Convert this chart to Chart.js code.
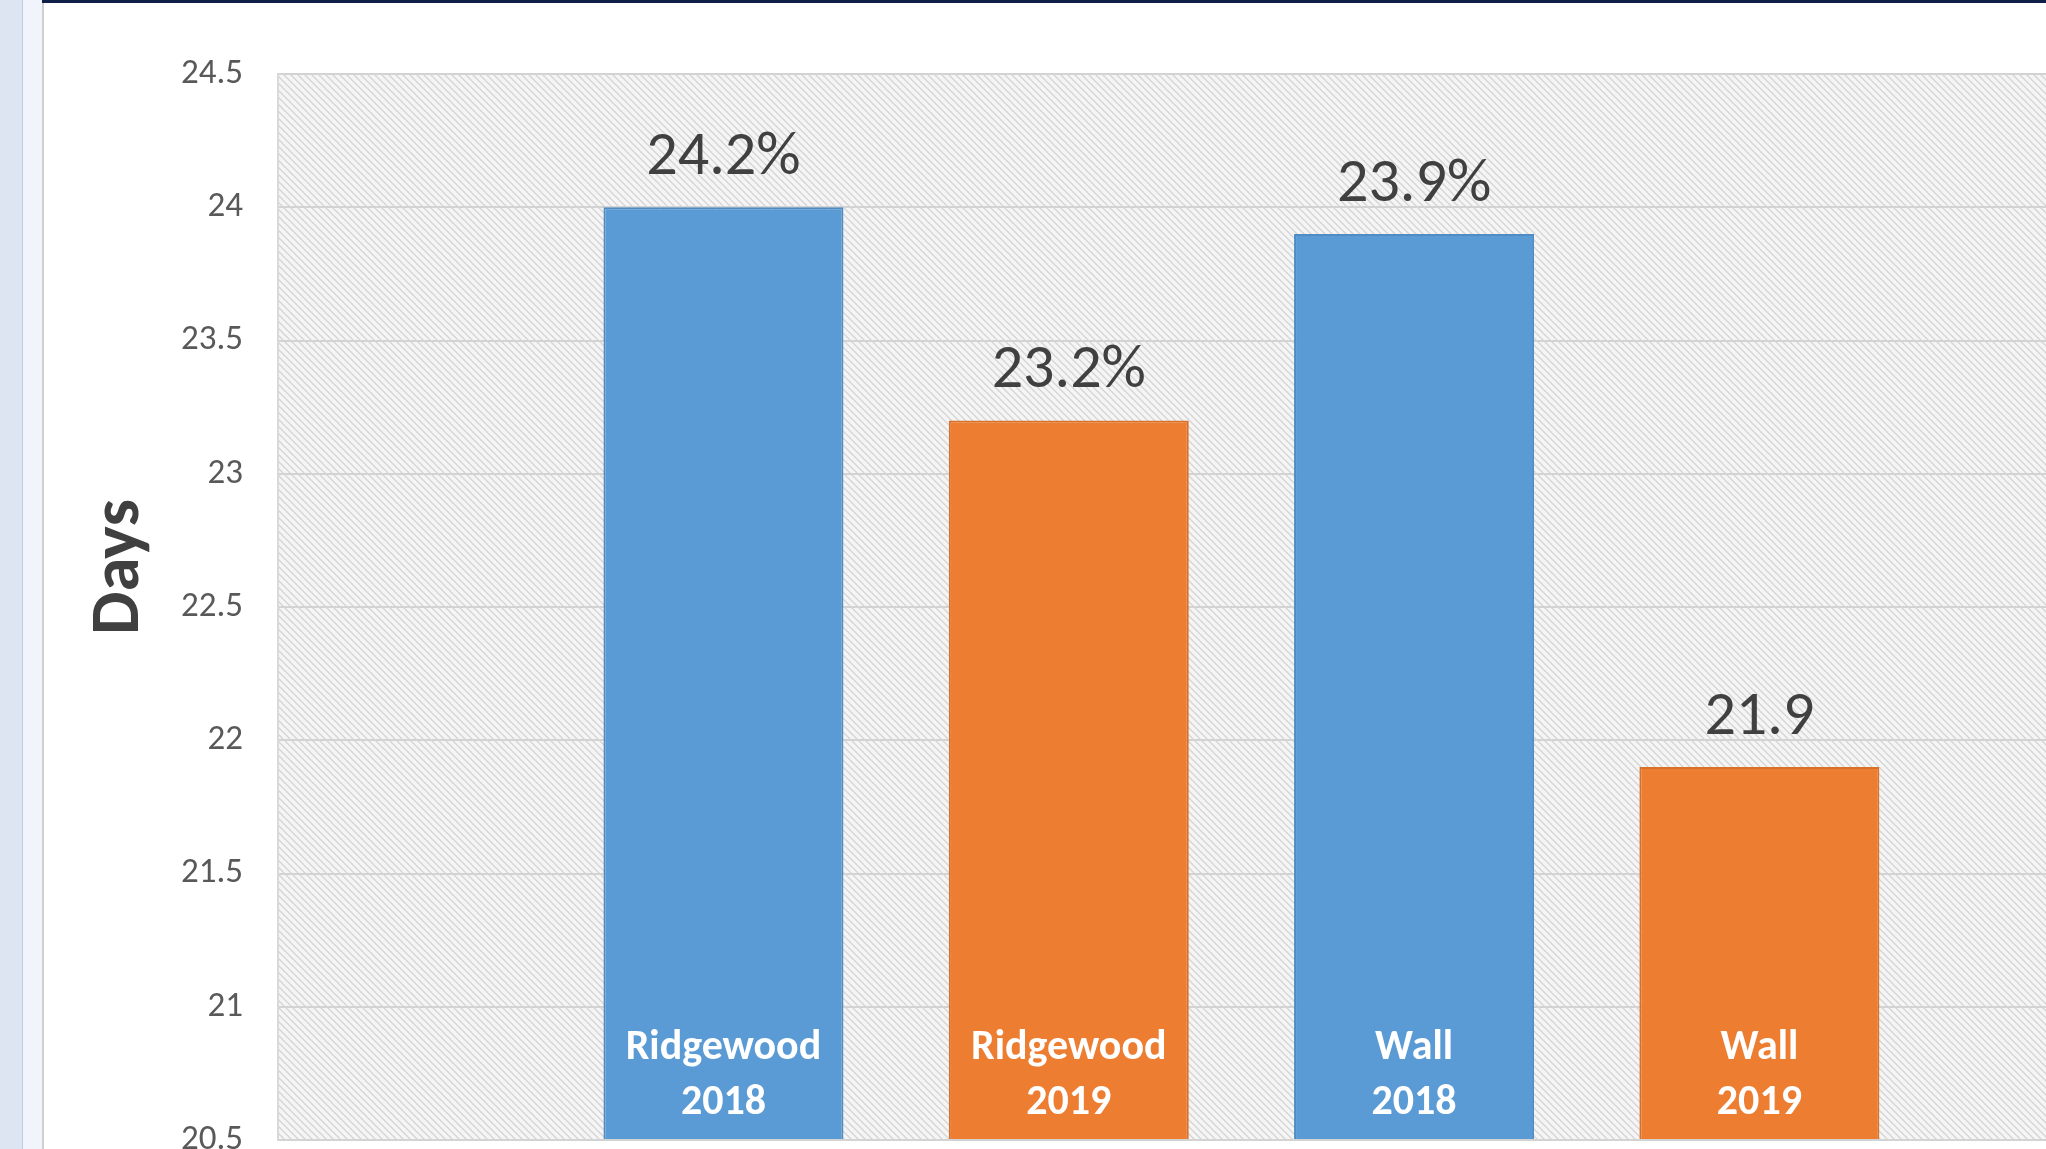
<!DOCTYPE html>
<html>
<head>
<meta charset="utf-8">
<title>Days</title>
<script src="https://cdn.jsdelivr.net/npm/chart.js@4.4.1/dist/chart.umd.min.js"></script>
<style>
  html, body { margin: 0; padding: 0; width: 2046px; height: 1149px; overflow: hidden; background: #ffffff; }
  /* window frame around the chart */
  .side-outer { position: absolute; left: 0; top: 0; width: 22px; height: 1149px; background: #dde5f3; border-right: 1px solid #b9cbe6; }
  .side-inner { position: absolute; left: 23px; top: 0; width: 19px; height: 1149px; background: #f1f4fb; border-right: 2px solid #cfcfcf; }
  .top-bar { position: absolute; left: 42px; top: 0; width: 2004px; height: 3px; background: #0f1f47; }
  /* the chart runs a little past the bottom of the window, like the cropped original */
  .chart-box { position: absolute; left: 44px; top: 3px; width: 2002px; height: 1158px; }
</style>
</head>
<body>
<div class="side-outer"></div>
<div class="side-inner"></div>
<div class="top-bar"></div>
<div class="chart-box"><canvas id="myChart" width="2002" height="1158"></canvas></div>

<script>
// --- Chart data ---
const categories = [['Ridgewood', '2018'], ['Ridgewood', '2019'], ['Wall', '2018'], ['Wall', '2019']];
const daysValues = [24.0, 23.2, 23.9, 21.9];
const valueLabels = ['24.2%', '23.2%', '23.9%', '21.9'];
const yTicks = [20.5, 21, 21.5, 22, 22.5, 23, 23.5, 24, 24.5];
const yTitle = 'Days';

// --- Styles ---
const barColors = ['#5b9bd5', '#ed7d31', '#5b9bd5', '#ed7d31'];
const barBorders = ['#4f8cc4', '#d97029', '#4f8cc4', '#d97029'];
const fontFamily = 'Carlito, Calibri, "Liberation Sans", Arial, sans-serif';

// small tile for the diagonal hatch behind the plot
function makeHatch() {
  const tile = document.createElement('canvas');
  tile.width = 7;
  tile.height = 7;
  const t = tile.getContext('2d');
  t.fillStyle = '#f5f5f5';
  t.fillRect(0, 0, 7, 7);
  t.strokeStyle = '#d4d4d4';
  t.lineWidth = 1.3;
  t.beginPath();
  t.moveTo(-1, -1); t.lineTo(8, 8);
  t.moveTo(-1, 6); t.lineTo(1, 8);
  t.moveTo(6, -1); t.lineTo(8, 1);
  t.stroke();
  return tile;
}

const plotBackground = {
  id: 'plotBackground',
  beforeDraw(chart) {
    const { ctx, chartArea } = chart;
    ctx.save();
    ctx.fillStyle = '#ffffff';
    ctx.fillRect(0, 0, chart.width, chart.height);
    ctx.fillStyle = ctx.createPattern(makeHatch(), 'repeat');
    ctx.fillRect(chartArea.left, chartArea.top, chartArea.right - chartArea.left, chartArea.bottom - chartArea.top);
    ctx.restore();
  }
};

// value labels above the bars, category names inside the bars
const barLabels = {
  id: 'barLabels',
  afterDatasetsDraw(chart) {
    const ctx = chart.ctx;
    const yScale = chart.scales.y;
    const bottom = yScale.getPixelForValue(yScale.min);
    const bars = chart.getDatasetMeta(0).data;
    ctx.save();
    ctx.textAlign = 'center';
    ctx.textBaseline = 'alphabetic';
    bars.forEach((bar, i) => {
      ctx.fillStyle = '#404040';
      ctx.font = '62px ' + fontFamily;
      ctx.fillText(valueLabels[i], bar.x, bar.y - 33);

      ctx.fillStyle = '#ffffff';
      ctx.font = 'bold 42px ' + fontFamily;
      const lines = categories[i];
      lines.forEach((line, j) => {
        ctx.fillText(line, bar.x, bottom - 26 - (lines.length - 1 - j) * 55);
      });
    });
    ctx.restore();
  }
};

// rotated y axis title, sitting a bit above the middle of the plot
const axisTitle = {
  id: 'axisTitle',
  afterDraw(chart) {
    const { ctx, chartArea } = chart;
    ctx.save();
    ctx.translate(94, (chartArea.top + chartArea.bottom) / 2 - 40);
    ctx.rotate(-Math.PI / 2);
    ctx.textAlign = 'center';
    ctx.textBaseline = 'alphabetic';
    ctx.fillStyle = '#404040';
    ctx.font = 'bold 69px ' + fontFamily;
    ctx.fillText(yTitle, 0, 0);
    ctx.restore();
  }
};

const ctx = document.getElementById('myChart').getContext('2d');
const myChart = new Chart(ctx, {
  type: 'bar',
  data: {
    datasets: [{
      label: yTitle,
      data: daysValues.map((v, i) => ({ x: i, y: v })),
      base: yTicks[0],
      backgroundColor: barColors,
      borderColor: barBorders,
      borderWidth: 2,
      borderSkipped: 'bottom',
      categoryPercentage: 1,
      barPercentage: 0.695
    }]
  },
  options: {
    responsive: false,
    animation: false,
    devicePixelRatio: 1,
    layout: { padding: { top: 71, bottom: 0, left: 0, right: 0 } },
    plugins: {
      legend: { display: false },
      tooltip: { enabled: false }
    },
    scales: {
      x: {
        type: 'linear',
        display: false,
        offset: false,
        min: -1.29,
        max: 3.83,
        afterBuildTicks: axis => { axis.ticks = categories.map((c, i) => ({ value: i })); }
      },
      y: {
        min: yTicks[0],
        max: yTicks[yTicks.length - 1],
        afterBuildTicks: axis => { axis.ticks = yTicks.map(v => ({ value: v })); },
        afterFit: axis => { axis.width = 234; },
        grid: { color: '#d3d3d3', lineWidth: 2, drawTicks: true, tickLength: 35, tickColor: 'rgba(0,0,0,0)' },
        border: { display: true, color: '#d9d9d9', width: 2 },
        ticks: {
          padding: 0,
          color: '#595959',
          font: { family: fontFamily, size: 35 },
          callback: v => String(v)
        }
      }
    }
  },
  plugins: [plotBackground, barLabels, axisTitle]
});
</script>
</body>
</html>
